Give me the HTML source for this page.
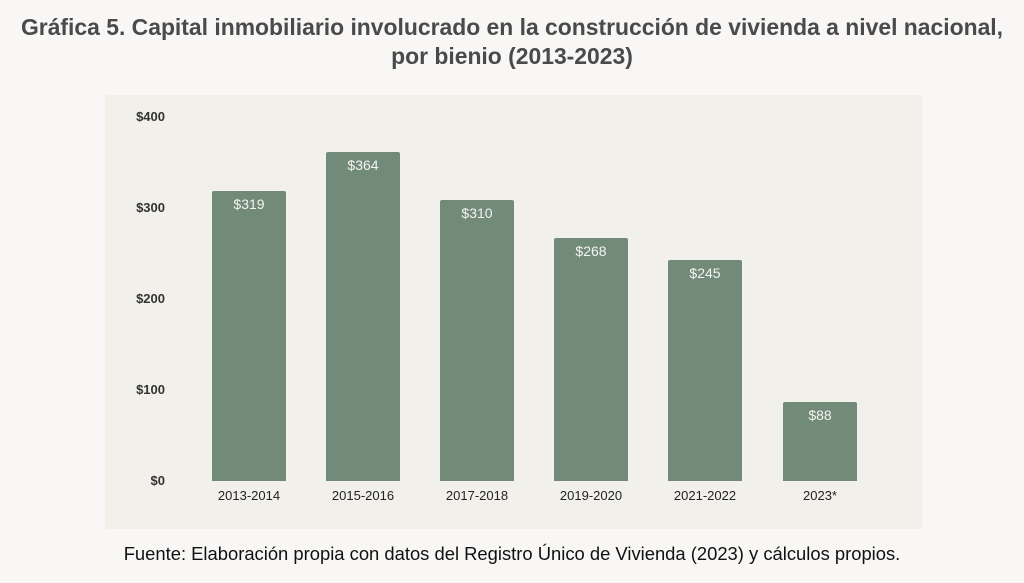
<!DOCTYPE html>
<html><head><meta charset="utf-8"><style>
body{margin:0;width:1024px;height:583px;background:#f8f7f5;font-family:"Liberation Sans",sans-serif;overflow:hidden;position:relative}
.t{position:absolute;left:0;width:1024px;text-align:center;font-weight:bold;font-size:22.9px;color:#4a4a4a;white-space:nowrap}
.panel{position:absolute;left:105px;top:95px;width:817px;height:434px;background:#f2f0eb}
.yl{position:absolute;width:60px;left:105px;text-align:right;font-size:13px;font-weight:bold;color:#333}
.bar{position:absolute;width:74px;background:#728a78;border-radius:2px 2px 0 0;color:#f4f4f0;text-align:center;font-size:14px;box-sizing:border-box;padding-top:5px}
.xl{position:absolute;width:110px;text-align:center;font-size:13px;color:#222;top:488px}
.src{position:absolute;top:543px;left:0;width:1024px;text-align:center;font-size:18.4px;color:#111;white-space:nowrap}
</style></head><body>
<div class="t" style="top:14px">Gráfica 5. Capital inmobiliario involucrado en la construcción de vivienda a nivel nacional,</div>
<div class="t" style="top:43px">por bienio (2013-2023)</div>
<div class="panel"></div>
<div class="yl" style="top:109px">$400</div>
<div class="yl" style="top:200px">$300</div>
<div class="yl" style="top:291px">$200</div>
<div class="yl" style="top:382px">$100</div>
<div class="yl" style="top:473px">$0</div>
<div class="bar" style="left:212px;top:191px;height:290px">$319</div>
<div class="bar" style="left:326px;top:152px;height:329px">$364</div>
<div class="bar" style="left:440px;top:200px;height:281px">$310</div>
<div class="bar" style="left:554px;top:238px;height:243px">$268</div>
<div class="bar" style="left:668px;top:260px;height:221px">$245</div>
<div class="bar" style="left:783px;top:402px;height:79px">$88</div>
<div class="xl" style="left:194px">2013-2014</div>
<div class="xl" style="left:308px">2015-2016</div>
<div class="xl" style="left:422px">2017-2018</div>
<div class="xl" style="left:536px">2019-2020</div>
<div class="xl" style="left:650px">2021-2022</div>
<div class="xl" style="left:765px">2023*</div>
<div class="src">Fuente: Elaboración propia con datos del Registro Único de Vivienda (2023) y cálculos propios.</div>
</body></html>
